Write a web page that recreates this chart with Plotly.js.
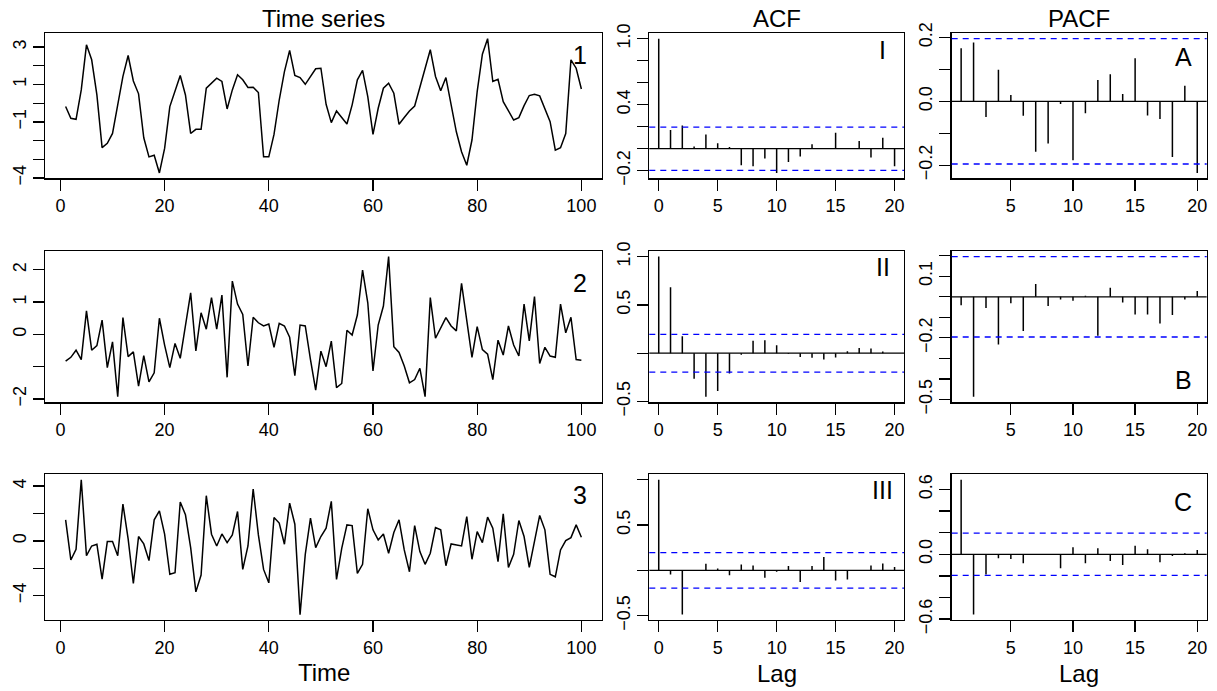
<!DOCTYPE html>
<html><head><meta charset="utf-8">
<script src="https://cdn.plot.ly/plotly-3.0.1.min.js"></script>
<style>html,body{margin:0;padding:0;background:#fff}#chart{width:1217px;height:691px}</style>
</head><body><div id="chart"></div>
<script>
// ---------- data ----------
const timeIndex = Array.from({length: 100}, (_, i) => i + 1);

const series1 = [-0.18,-0.81,-0.86,0.71,3.12,2.32,0.44,-2.38,-2.15,-1.62,
  -0.09,1.43,2.55,1.19,0.50,-1.85,-2.87,-2.78,-3.73,-2.42,
  -0.18,0.62,1.48,0.44,-1.62,-1.40,-1.40,0.80,1.07,1.34,
  1.16,-0.31,0.71,1.52,1.25,0.84,0.85,0.57,-2.87,-2.87,
  -1.67,0.17,1.69,2.82,1.48,1.37,1.01,1.43,1.84,1.87,
  -0.06,-1.04,-0.42,-0.77,-1.11,-0.09,1.25,1.75,0.35,-1.67,
  -0.27,0.80,1.07,0.53,-1.13,-0.77,-0.42,-0.15,0.89,1.87,
  2.86,1.43,0.66,1.37,-0.01,-1.53,-2.60,-3.32,-1.97,0.62,
  2.62,3.45,1.16,1.28,0.08,-0.45,-0.90,-0.77,-0.13,0.41,
  0.48,0.39,-0.27,-0.99,-2.51,-2.38,-1.62,2.32,1.87,0.76];

const series2 = [-0.83,-0.71,-0.49,-0.78,0.73,-0.49,-0.35,0.44,-1.03,-0.23,
  -1.93,0.52,-0.69,-0.54,-1.60,-0.66,-1.47,-1.19,0.50,-0.33,
  -1.03,-0.28,-0.74,0.24,1.29,-0.51,0.67,0.16,1.14,0.16,
  1.22,-1.33,1.65,0.94,0.62,-0.98,0.53,0.36,0.26,0.32,
  -0.40,0.34,0.26,-0.09,-1.28,0.29,0.26,-0.78,-1.73,-0.52,
  -1.00,-0.21,-1.65,-1.52,0.13,-0.02,0.60,1.99,0.98,-1.13,
  0.29,0.88,2.41,-0.38,-0.56,-0.98,-1.50,-1.40,-1.05,-1.93,
  1.14,-0.12,0.22,0.52,0.26,0.11,1.58,0.42,-0.71,0.24,
  -0.47,-0.61,-1.40,-0.18,-0.64,0.26,-0.33,-0.67,0.94,-0.20,
  1.17,-0.90,-0.40,-0.67,-0.71,0.94,0.05,0.53,-0.78,-0.80];

const series3 = [1.54,-1.39,-0.61,4.47,-1.08,-0.37,-0.24,-2.79,-0.05,-0.05,
  -1.08,2.69,0.15,-3.11,0.32,-0.22,-1.44,1.54,2.20,0.49,
  -2.44,-2.32,2.84,1.91,-0.49,-3.72,-2.49,3.30,0.49,-0.37,
  0.51,-0.12,0.44,2.15,-2.08,-0.37,3.79,0.44,-2.08,-3.06,
  1.71,1.30,-0.24,2.76,1.22,-5.38,-0.98,1.66,-0.49,0.32,
  0.93,2.89,-2.81,-0.54,1.17,1.12,-2.37,-1.71,2.35,0.81,
  0.07,0.51,-0.90,0.61,1.54,-0.66,-2.25,1.12,-0.78,-1.71,
  -0.90,0.98,0.81,-1.81,-0.22,-0.29,-0.37,1.78,-1.34,0.68,
  -0.12,1.74,0.93,-1.52,1.98,-1.93,-0.98,1.49,0.32,-1.93,
  -0.05,1.86,0.81,-2.44,-2.62,-0.66,0.02,0.24,1.17,0.27];

const lagsACF  = [0,1,2,3,4,5,6,7,8,9,10,11,12,13,14,15,16,17,18,19,20];
const lagsPACF = [1,2,3,4,5,6,7,8,9,10,11,12,13,14,15,16,17,18,19,20];

const acf1 = [1.0,0.17,0.21,0.02,0.13,0.05,0.015,-0.15,-0.16,-0.09,-0.22,
  -0.12,-0.07,0.04,0.006,0.145,0.005,0.07,-0.08,0.10,-0.16];
const acf2 = [1.0,0.683,0.175,-0.264,-0.45,-0.39,-0.21,-0.017,0.13,0.134,0.082,
  -0.007,-0.04,-0.048,-0.065,-0.045,0.02,0.055,0.05,0.017,0.0];
const acf3 = [1.0,-0.044,-0.487,0.004,0.074,0.022,-0.052,0.066,0.055,-0.081,-0.015,
  0.048,-0.129,0.048,0.148,-0.11,-0.10,-0.004,0.055,0.077,0.037];

const pacf1 = [0.166,0.184,-0.049,0.099,0.02,-0.045,-0.158,-0.132,-0.008,-0.184,
  -0.0375,0.067,0.085,0.023,0.135,-0.044,-0.055,-0.174,0.049,-0.224];
const pacf2 = [-0.041,-0.487,-0.054,-0.232,-0.032,-0.167,0.062,-0.045,-0.013,-0.019,
  0.005,-0.19,0.044,-0.028,-0.086,-0.086,-0.13,-0.089,-0.013,0.028];
const pacf3 = [0.69,-0.558,-0.186,-0.037,-0.043,-0.084,-0.006,-0.004,-0.13,0.065,
  -0.084,0.056,-0.062,-0.099,0.078,0.047,-0.074,-0.016,0.009,0.04];

const ciBound = 0.196;

const tsPanelLabels   = ['1','2','3'];
const acfPanelLabels  = ['I','II','III'];
const pacfPanelLabels = ['A','B','C'];

const tsXTicks   = [0,20,40,60,80,100];
const acfXTicks  = [0,5,10,15,20];
const pacfXTicks = [5,10,15,20];

const ts1YTicks = [-4,-3,-2,-1,0,1,2,3];       const ts1YText = ['−4','','','−1','','1','','3'];
const ts2YTicks = [-2,-1,0,1,2];               const ts2YText = ['−2','','0','1','2'];
const ts3YTicks = [-4,-2,0,2,4];               const ts3YText = ['−4','','0','','4'];
const acf1YTicks = [-0.2,0,0.2,0.4,0.6,0.8,1.0]; const acf1YText = ['−0.2','','','0.4','','','1.0'];
const acf2YTicks = [-0.5,0,0.5,1.0];           const acf2YText = ['−0.5','','0.5','1.0'];
const acf3YTicks = [-0.5,0,0.5,1.0];           const acf3YText = ['−0.5','','0.5',''];
const pacf1YTicks = [-0.2,-0.1,0,0.1,0.2];     const pacf1YText = ['−0.2','','0.0','','0.2'];
const pacf2YTicks = [-0.5,-0.4,-0.3,-0.2,-0.1,0,0.1,0.2]; const pacf2YText = ['−0.5','','','−0.2','','','0.1',''];
const pacf3YTicks = [-0.6,-0.4,-0.2,0,0.2,0.4,0.6]; const pacf3YText = ['−0.6','','','0.0','','','0.6'];

// ---------- layout helpers ----------
const W = 1217, H = 691;
const FONT = 'Liberation Sans, Arial, Helvetica, sans-serif';
const colPx = [[45, 602], [649.3, 904], [951.7, 1206.7]];
const rowPx = [[33.3, 178.3], [251, 402.3], [474.3, 620]];
const px2x = p => p / W;
const px2y = p => 1 - p / H;

function rRange(vals, extra) {
  const all = vals.concat(extra || []);
  const lo = Math.min(...all), hi = Math.max(...all);
  const pad = (hi - lo) * 0.04;
  return [lo - pad, hi + pad];
}
function stems(lags, vals) {
  const x = [], y = [];
  lags.forEach((l, i) => { x.push(l, l, null); y.push(0, vals[i], null); });
  return {x, y};
}

const data = [];
const layout = {
  width: W, height: H,
  margin: {l: 0, r: 0, t: 0, b: 0},
  paper_bgcolor: '#fff', plot_bgcolor: '#fff',
  showlegend: false,
  font: {family: FONT, color: '#000', size: 18},
  annotations: [], shapes: []
};

function axisCommon() {
  return {
    showline: true, mirror: true, linecolor: '#000', linewidth: 1.3,
    ticks: 'outside', ticklen: 11, tickwidth: 1.3, tickcolor: '#000',
    showgrid: false, zeroline: false,
    tickfont: {family: FONT, size: 18, color: '#000'}
  };
}

const tsSeries = [series1, series2, series3];
const tsYT = [[ts1YTicks, ts1YText], [ts2YTicks, ts2YText], [ts3YTicks, ts3YText]];
const acfSeries = [acf1, acf2, acf3];
const acfYT = [[acf1YTicks, acf1YText], [acf2YTicks, acf2YText], [acf3YTicks, acf3YText]];
const pacfSeries = [pacf1, pacf2, pacf3];
const pacfYT = [[pacf1YTicks, pacf1YText], [pacf2YTicks, pacf2YText], [pacf3YTicks, pacf3YText]];

let n = 0;
for (let r = 0; r < 3; r++) {
  for (let c = 0; c < 3; c++) {
    n++;
    const xa = 'xaxis' + (n === 1 ? '' : n), ya = 'yaxis' + (n === 1 ? '' : n);
    const xr = 'x' + (n === 1 ? '' : n), yr = 'y' + (n === 1 ? '' : n);
    const xax = axisCommon(), yax = axisCommon();
    xax.domain = [px2x(colPx[c][0]), px2x(colPx[c][1])];
    yax.domain = [px2y(rowPx[r][1]), px2y(rowPx[r][0])];
    xax.anchor = yr; yax.anchor = xr;
    yax.tickangle = -90;
    let label, lx, ly;
    if (c === 0) {
      const s = tsSeries[r];
      data.push({x: timeIndex, y: s, xaxis: xr, yaxis: yr, type: 'scatter', mode: 'lines',
                 line: {color: '#000', width: 1.5}, hoverinfo: 'skip'});
      xax.range = [1 - 0.04 * 99, 100 + 0.04 * 99];
      xax.tickvals = tsXTicks;
      yax.range = rRange(s);
      yax.tickvals = tsYT[r][0]; yax.ticktext = tsYT[r][1];
      label = tsPanelLabels[r];
      lx = 580; ly = [55, 283, 495][r];
    } else {
      const isAcf = c === 1;
      const lags = isAcf ? lagsACF : lagsPACF;
      const vals = isAcf ? acfSeries[r] : pacfSeries[r];
      const st = stems(lags, vals);
      data.push({x: st.x, y: st.y, xaxis: xr, yaxis: yr, type: 'scatter', mode: 'lines',
                 line: {color: '#000', width: 1.5}, hoverinfo: 'skip', connectgaps: false});
      const l0 = lags[0], l1 = lags[lags.length - 1];
      xax.range = [l0 - 0.04 * (l1 - l0), l1 + 0.04 * (l1 - l0)];
      xax.tickvals = isAcf ? acfXTicks : pacfXTicks;
      yax.range = rRange(vals, [ciBound, -ciBound]);
      const yt = isAcf ? acfYT[r] : pacfYT[r];
      yax.tickvals = yt[0]; yax.ticktext = yt[1];
      layout.shapes.push({type: 'line', xref: xr + ' domain', yref: yr, x0: 0, x1: 1, y0: 0, y1: 0,
                          line: {color: '#000', width: 1.3}});
      [ciBound, -ciBound].forEach(v => layout.shapes.push({
        type: 'line', xref: xr + ' domain', yref: yr, x0: 0, x1: 1, y0: v, y1: v,
        line: {color: '#0000FF', width: 1.3, dash: '6px,5px'}}));
      if (isAcf) { label = acfPanelLabels[r]; lx = 882.5; ly = [50, 266.7, 490][r]; }
      else { label = pacfPanelLabels[r]; lx = 1183; ly = [56.7, 380, 501.7][r]; }
    }
    layout[xa] = xax; layout[ya] = yax;
    layout.annotations.push({text: label, xref: 'paper', yref: 'paper', x: px2x(lx), y: px2y(ly),
      xanchor: 'center', yanchor: 'middle', showarrow: false,
      font: {family: FONT, size: 25, color: '#000'}});
  }
}

const titles = [
  ['Time series', 323.5, 18], ['ACF', 776.7, 18], ['PACF', 1079, 18],
  ['Time', 323.5, 672], ['Lag', 776.7, 673], ['Lag', 1079, 673]
];
titles.forEach(t => layout.annotations.push({text: t[0], xref: 'paper', yref: 'paper',
  x: px2x(t[1]), y: px2y(t[2]), xanchor: 'center', yanchor: 'middle', showarrow: false,
  font: {family: FONT, size: 24, color: '#000'}}));

Plotly.newPlot('chart', data, layout, {staticPlot: true, displayModeBar: false});
</script></body></html>
